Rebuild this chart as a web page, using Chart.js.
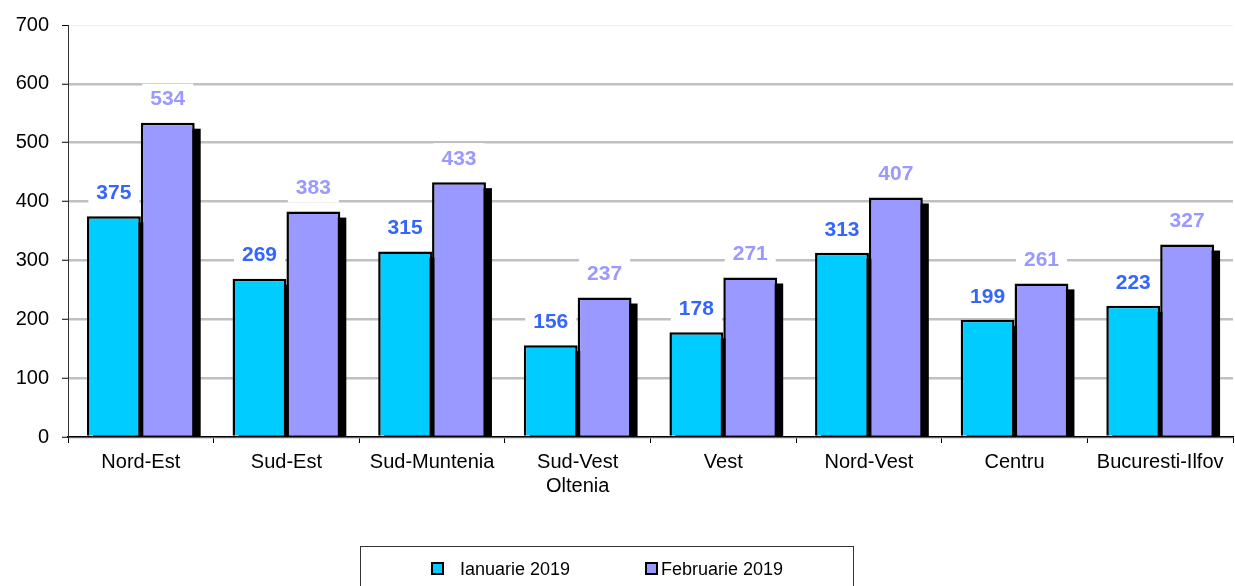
<!DOCTYPE html>
<html>
<head>
<meta charset="utf-8">
<script src="https://cdn.jsdelivr.net/npm/chart.js@4/dist/chart.umd.min.js"></script>
<style>
  html, body { margin: 0; padding: 0; background: #fff; }
  #wrap { position: relative; width: 1235px; height: 586px; }
  #legend { position: absolute; left: 360px; top: 546px; width: 494px; height: 50px;
    border: 1px solid #333; box-sizing: border-box; font: 18px "Liberation Sans", Arial, sans-serif; color: #000; }
  .item { position: absolute; top: 12px; white-space: nowrap; }
  .sw { display: inline-block; width: 9px; height: 9px; border: 2px solid #000; vertical-align: middle; margin-top: -3px; }
</style>
</head>
<body>
<div id="wrap">
  <canvas id="c" width="1235" height="586"></canvas>
  <div id="legend"></div>
</div>
<script>
const categories = ["Nord-Est", "Sud-Est", "Sud-Muntenia", ["Sud-Vest", "Oltenia"], "Vest", "Nord-Vest", "Centru", "Bucuresti-Ilfov"];
const seriesNames = ["Ianuarie 2019", "Februarie 2019"];
const ianuarie = [375, 269, 315, 156, 178, 313, 199, 223];
const februarie = [534, 383, 433, 237, 271, 407, 261, 327];
const yTicks = [0, 100, 200, 300, 400, 500, 600, 700];

const fillColors = ["#00ccff", "#9999ff"];
const labelColors = ["#3366ff", "#9999ff"];
const FONT = '"Liberation Sans", Arial, sans-serif';

const shadowPlugin = {
  id: 'shadow',
  beforeDatasetsDraw(chart) {
    const ctx = chart.ctx, area = chart.chartArea;
    ctx.save();
    ctx.beginPath();
    ctx.rect(area.left, area.top - 10, area.right - area.left + 10, area.bottom - area.top + 10);
    ctx.clip();
    ctx.fillStyle = '#000';
    chart.data.datasets.forEach((ds, i) => {
      chart.getDatasetMeta(i).data.forEach(bar => {
        const w = bar.width;
        const x0 = bar.x - w / 2, top = bar.y;
        ctx.fillRect(x0 + 6, top + 6, w, bar.base - top);
      });
    });
    ctx.restore();
  }
};

const labelPlugin = {
  id: 'labels',
  afterDatasetsDraw(chart) {
    const ctx = chart.ctx;
    ctx.save();
    ctx.font = 'bold 21px ' + FONT;
    ctx.textAlign = 'center';
    ctx.textBaseline = 'middle';
    chart.data.datasets.forEach((ds, i) => {
      chart.getDatasetMeta(i).data.forEach((bar, j) => {
        const txt = String(ds.data[j]);
        const w = ctx.measureText(txt).width;
        const cx = bar.x, cy = bar.y - 24;
        ctx.fillStyle = '#fff';
        ctx.fillRect(cx - w / 2 - 8, cy - 15, w + 16, 30);
        ctx.fillStyle = labelColors[i];
        ctx.fillText(txt, cx, cy + 1);
      });
    });
    ctx.restore();
  }
};

const chart = new Chart(document.getElementById('c'), {
  type: 'bar',
  data: {
    labels: categories,
    datasets: [
      { label: seriesNames[0], data: ianuarie, backgroundColor: fillColors[0], borderColor: '#000', borderWidth: 2.5,
        categoryPercentage: 0.74, barPercentage: 1.0 },
      { label: seriesNames[1], data: februarie, backgroundColor: fillColors[1], borderColor: '#000', borderWidth: 2.5,
        categoryPercentage: 0.74, barPercentage: 1.0 }
    ]
  },
  options: {
    responsive: false,
    animation: false,
    layout: { padding: { top: 23, right: 2, left: 0, bottom: 0 } },
    plugins: { legend: { display: false }, tooltip: { enabled: false } },
    scales: {
      x: {
        offset: true,
        grid: { offset: true, drawOnChartArea: false, tickLength: 6, tickColor: '#000', tickWidth: 1 },
        border: { color: '#000', width: 1.5 },
        ticks: { color: '#000', font: { family: FONT, size: 20 }, padding: 7, maxRotation: 0, autoSkip: false },
        afterFit(scale) { scale.height = 149; }
      },
      y: {
        min: 0, max: 700,
        afterBuildTicks(scale) { scale.ticks = yTicks.map(v => ({ value: v })); },
        grid: {
          color: ctx => (ctx.tick && ctx.tick.value === 700) ? '#eeeeee' : '#c0c0c0',
          lineWidth: ctx => (ctx.tick && ctx.tick.value === 700) ? 1 : 2.5,
          tickColor: '#000', tickWidth: 1, tickLength: 6
        },
        border: { color: '#333', width: 1 },
        ticks: { color: '#000', font: { family: FONT, size: 20 }, padding: 13 },
        afterFit(scale) { scale.width = 68; }
      }
    }
  },
  plugins: [shadowPlugin, labelPlugin]
});

const legend = document.getElementById('legend');
const positions = [70, 284];
seriesNames.forEach((name, i) => {
  const d = document.createElement('div');
  d.className = 'item';
  d.style.left = positions[i] + 'px';
  const sw = document.createElement('span');
  sw.className = 'sw';
  sw.style.background = fillColors[i];
  d.appendChild(sw);
  const t = document.createElement('span');
  t.textContent = name;
  t.style.marginLeft = i === 0 ? '16px' : '3px';
  d.appendChild(t);
  legend.appendChild(d);
});
</script>
</body>
</html>
